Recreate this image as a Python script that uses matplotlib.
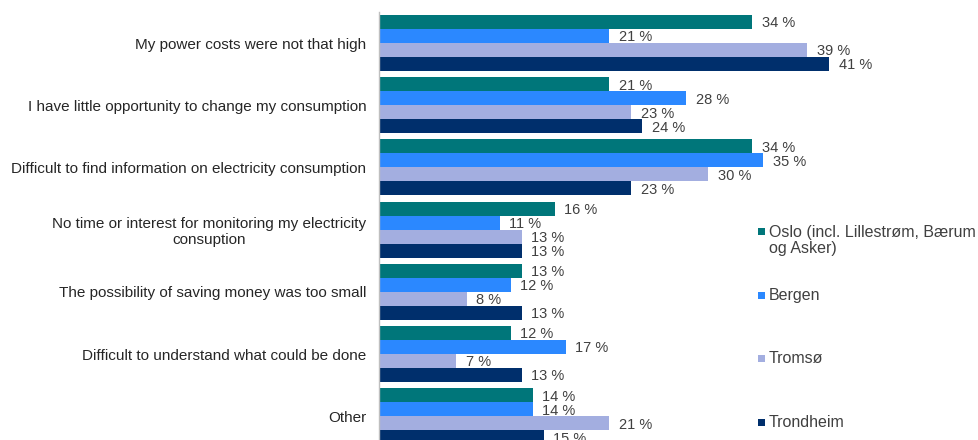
import matplotlib
matplotlib.use("Agg")
import matplotlib.pyplot as plt
from matplotlib.patches import Rectangle
import numpy as np

plt.rcParams['font.family'] = ['Liberation Sans', 'DejaVu Sans']

categories = [
    "My power costs were not that high",
    "I have little opportunity to change my consumption",
    "Difficult to find information on electricity consumption",
    "No time or interest for monitoring my electricity\nconsuption",
    "The possibility of saving money was too small",
    "Difficult to understand what could be done",
    "Other",
]
series_names = ["Oslo (incl. Lillestrøm, Bærum\nog Asker)", "Bergen", "Tromsø", "Trondheim"]
oslo = [34, 21, 34, 16, 13, 12, 14]
bergen = [21, 28, 35, 11, 12, 17, 14]
tromso = [39, 23, 30, 13, 8, 7, 21]
trondheim = [41, 24, 23, 13, 13, 13, 15]

colors = ["#00767A", "#2B88FF", "#A3AEE0", "#002F6C"]
series = [oslo, bergen, tromso, trondheim]

W, H = 979, 440
fig = plt.figure(figsize=(W / 100, H / 100), dpi=100)
ax_left = 379 / W
ax_top_px = 11.9
ax_bot_px = 447.3
ax = fig.add_axes([ax_left, (H - ax_bot_px) / H, 0.52, (ax_bot_px - ax_top_px) / H])

y = np.arange(len(categories))
bh = 0.225
offsets = [-1.5 * bh, -0.5 * bh, 0.5 * bh, 1.5 * bh]
for vals, col, off in zip(series, colors, offsets):
    bars = ax.barh(y + off, vals, height=bh, color=col, edgecolor='none')
    for b, v in zip(bars, vals):
        ax.annotate(f"{v} %", (b.get_width(), b.get_y() + b.get_height() / 2),
                    xytext=(7, -1), textcoords='offset points', va='center', ha='left',
                    fontsize=10.5, color='#404040', annotation_clip=False)

ax.set_ylim(len(categories) - 0.5, -0.5)
ax.set_xlim(0, 46.4)
ax.set_yticks(y)
ax.set_yticklabels(categories, fontsize=11, color='#262626', multialignment='center')
ax.tick_params(axis='y', length=0, pad=9)
ax.set_xticks([])
for s in ['top', 'right', 'bottom']:
    ax.spines[s].set_visible(False)
ax.spines['left'].set_color('#BFBFBF')
ax.spines['left'].set_linewidth(1)
ax.patch.set_alpha(0)

# legend (manual, to match layout)
legend_y_px = [232, 295, 358, 422]
for name, col, ly in zip(series_names, colors, legend_y_px):
    fig.patches.append(Rectangle((758 / W, (H - ly - 3.5) / H), 7 / W, 7 / H,
                                 transform=fig.transFigure, facecolor=col, edgecolor='none'))
    lines = name.split('\n')
    for k, line in enumerate(lines):
        fig.text(769 / W, (H - ly - 17 * k) / H, line,
                 fontsize=11.5, color='#404040', va='center', ha='left')

fig.savefig("out.png", dpi=100)
